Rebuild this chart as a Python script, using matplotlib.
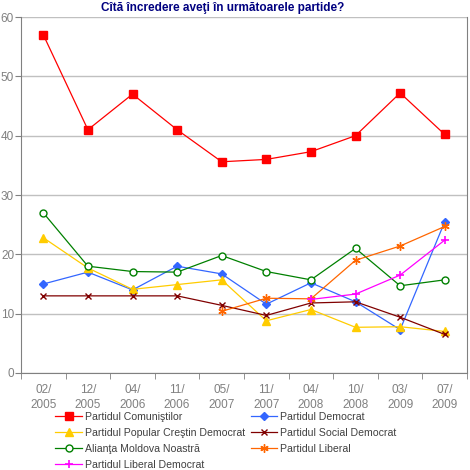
import numpy as np
import matplotlib.pyplot as plt

plt.rcParams['font.family'] = ['Liberation Sans', 'DejaVu Sans']

dates = ["02/\n2005", "12/\n2005", "04/\n2006", "11/\n2006", "05/\n2007",
         "11/\n2007", "04/\n2008", "10/\n2008", "03/\n2009", "07/\n2009"]

pcrm = [57, 41, 47, 41, 35.6, 36, 37.3, 40, 47.2, 40.2]
pd = [15, 17, 14, 18, 16.7, 11.6, 15.2, 12, 7.3, 25.5]
ppcd = [22.8, 17.7, 14.1, 14.9, 15.7, 8.8, 10.7, 7.7, 7.8, 7]
psd = [13, 13, 13, 13, 11.4, 9.7, 11.8, 12, 9.4, 6.5]
amn = [27, 18, 17.1, 17, 19.8, 17.1, 15.7, 21, 14.7, 15.7]
pl = [np.nan, np.nan, np.nan, np.nan, 10.4, 12.6, 12.5, 19, 21.4, 24.7]
pldm = [np.nan, np.nan, np.nan, np.nan, np.nan, np.nan, 12.4, 13.3, 16.5, 22.4]

names = ["Partidul Comuniştilor", "Partidul Democrat",
         "Partidul Popular Creştin Democrat", "Partidul Social Democrat",
         "Alianţa Moldova Noastră", "Partidul Liberal",
         "Partidul Liberal Democrat"]

gray = "#808080"
fig = plt.figure(figsize=(4.7, 4.7), dpi=100)
ax = fig.add_axes([0.0447, 0.2064, 0.949, 0.7574])
x = np.arange(len(dates))

lw = 0.9
h = {}
h[0], = ax.plot(x, pcrm, color="#ff0000", lw=lw, marker="s", ms=5.5, mec="#ff0000")
h[1], = ax.plot(x, pd, color="#3366ff", lw=lw, marker="D", ms=4.5, mec="#3366ff")
h[2], = ax.plot(x, ppcd, color="#ffcc00", lw=lw, marker="^", ms=6, mec="#ffcc00")
h[3], = ax.plot(x, psd, color="#800000", lw=lw, marker="x", ms=5, mew=1)
h[4], = ax.plot(x, amn, color="#008000", lw=lw, marker="o", ms=5, mfc="white", mew=1)
h[5], = ax.plot(x, pl, color="#ff6600", lw=lw, marker=(6, 2, 0), ms=6, mew=1)
h[6], = ax.plot(x, pldm, color="#ff00ff", lw=lw, marker="+", ms=6, mew=1.2)

ax.set_xlim(-0.5, len(dates) - 0.5)
ax.set_ylim(0, 60)
ax.set_yticks(range(0, 61, 10))
ax.yaxis.grid(True, color="#c0c0c0", lw=1)
ax.set_axisbelow(True)
ax.set_xticks(x)
ax.set_xticklabels(dates, linespacing=1.3)
ax.set_xticks(np.arange(-0.5, len(dates)), minor=True)
ax.tick_params(axis="x", which="major", length=0, pad=8, labelsize=8.5, colors=gray)
ax.tick_params(axis="x", which="minor", length=4, color=gray)
ax.tick_params(axis="y", length=4, color=gray, labelsize=8.5, labelcolor=gray, pad=1)
for s in ax.spines.values():
    s.set_color(gray)
ax.spines["top"].set_visible(False)

fig.text(223 / 470, 1 - 8 / 470, "Cîtă încredere aveţi în următoarele partide?",
         fontsize=8.5, fontweight="bold", color="#000080", ha="center", va="center")

order = [0, 2, 4, 6, 1, 3, 5]
leg = fig.legend([h[i] for i in order], [names[i] for i in order], ncol=2,
                 loc="upper left", bbox_to_anchor=(0.109, 0.133), frameon=False,
                 fontsize=7.6, handlelength=2.5, handletextpad=0.28,
                 labelspacing=0.57, columnspacing=0.55, borderaxespad=0)
for t in leg.get_texts():
    t.set_color("#404040")

fig.savefig("out.png", dpi=100)
